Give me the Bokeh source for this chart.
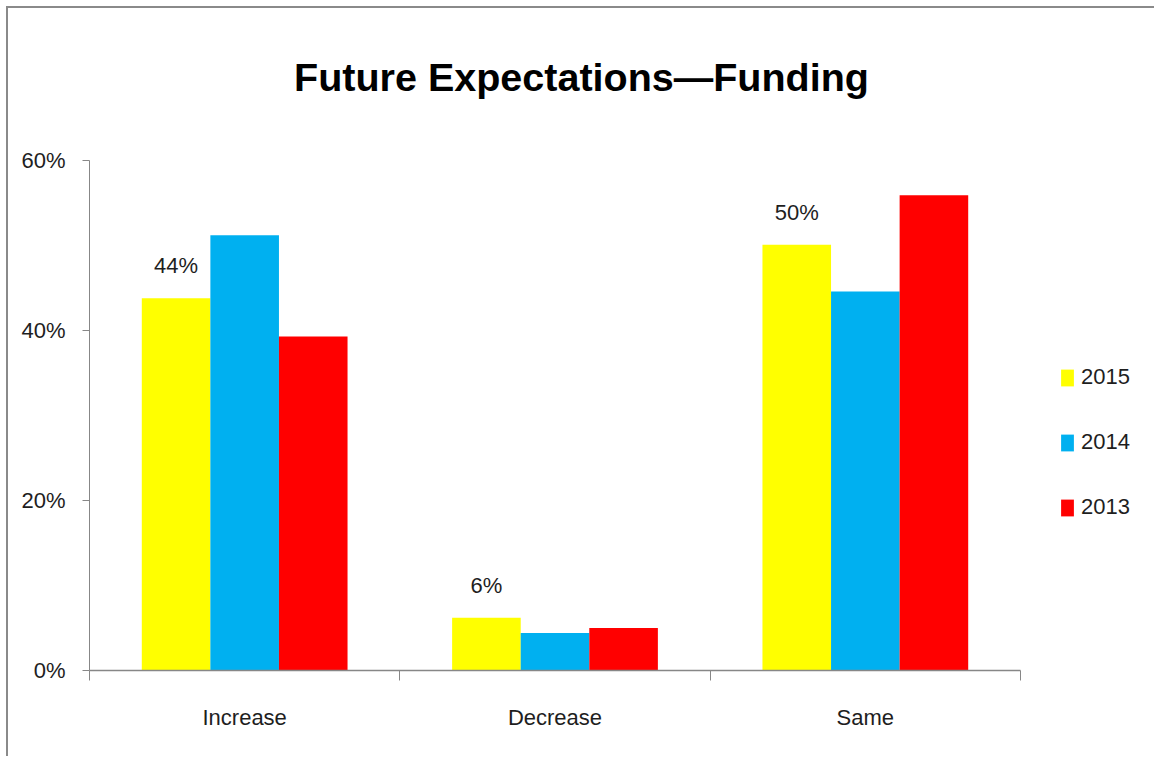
from bokeh.plotting import figure
from bokeh.models import (ColumnDataSource, Range1d, LinearAxis, FixedTicker, Label,
                          NumeralTickFormatter, LabelSet, Legend, LegendItem)
from bokeh.core.properties import value
from bokeh.transform import dodge
from bokeh.embed import file_html
from bokeh.resources import INLINE

categories = ["Increase", "Decrease", "Same"]
series = ["2015", "2014", "2013"]
colors = ["#FFFF00", "#00B0F0", "#FF0000"]
v2015 = [0.438, 0.062, 0.501]
v2014 = [0.512, 0.044, 0.446]
v2013 = [0.393, 0.050, 0.559]
y_ticks = [0.0, 0.2, 0.4, 0.6]
title_text = "Future Expectations\u2014Funding"

FONT = "Liberation Sans"
TXT = "#1e1e1e"
AX = "#878787"

ncat = len(categories)
src = ColumnDataSource(dict(
    cat=categories, xc=[i + 0.5 for i in range(ncat)],
    s2015=v2015, s2014=v2014, s2013=v2013,
    lab=[f"{round(v * 100)}%" for v in v2015],
))

# frame spans beyond the category area so that title and legend sit inside it;
# the axes are bounded to the data area
p = figure(x_range=Range1d(0, ncat * 1067 / 931), y_range=Range1d(0, max(y_ticks) * 662 / 510),
           width=1148, height=750, output_backend="svg", toolbar_location=None,
           x_axis_location=None, y_axis_location=None,
           min_border_left=81, min_border_top=0, min_border_right=0, min_border_bottom=88,
           styles={"margin-left": "6px", "margin-top": "6px",
                   "border-left": "2px solid #8a8a8a", "border-top": "2px solid #8a8a8a"})
p.outline_line_color = None
p.xgrid.visible = False
p.ygrid.visible = False
p.background_fill_color = "white"
p.border_fill_color = "white"

bw = 0.221
offsets = [-bw, 0.0, bw]
renderers = []
for s, c, off in zip(series, colors, offsets):
    r = p.vbar(x=dodge("xc", off), top="s" + s, width=bw, source=src,
               fill_color=c, line_color=None)
    renderers.append(r)

# data labels for 2015
labels = LabelSet(x=dodge("xc", offsets[0]), y="s2015", text="lab", source=src,
                  text_align="center", text_baseline="alphabetic", y_offset=25,
                  text_font=value(FONT), text_font_size="22px", text_color=TXT)
p.add_layout(labels)

# y axis
yaxis = LinearAxis(ticker=FixedTicker(ticks=y_ticks), formatter=NumeralTickFormatter(format="0%"),
                   bounds=(min(y_ticks), max(y_ticks)))
yaxis.axis_line_color = AX
yaxis.major_tick_line_color = AX
yaxis.major_tick_out = 7
yaxis.major_tick_in = 0
yaxis.minor_tick_line_color = None
yaxis.major_label_standoff = 17
yaxis.major_label_text_font = FONT
yaxis.major_label_text_font_size = "22px"
yaxis.major_label_text_color = TXT
p.add_layout(yaxis, "left")

# x axis: category names at centres, ticks at category boundaries
xaxis = LinearAxis(ticker=FixedTicker(ticks=[i + 0.5 for i in range(ncat)],
                                      minor_ticks=list(range(ncat + 1))),
                   bounds=(0, ncat))
xaxis.major_label_overrides = {i + 0.5: c for i, c in enumerate(categories)}
xaxis.axis_line_color = AX
xaxis.axis_line_width = 1.5
xaxis.major_tick_line_color = None
xaxis.major_tick_out = 10
xaxis.minor_tick_line_color = AX
xaxis.minor_tick_out = 10
xaxis.minor_tick_in = 0
xaxis.major_label_standoff = 24
xaxis.major_label_text_font = FONT
xaxis.major_label_text_font_size = "22px"
xaxis.major_label_text_color = TXT
p.add_layout(xaxis, "below")

# title
title = Label(x=492, y=594, x_units="screen", y_units="screen", text=title_text,
              text_align="center", text_baseline="alphabetic", text_font=FONT,
              text_font_style="bold", text_font_size="39.5px", text_color="#000000")
p.add_layout(title)

legend = Legend(items=[LegendItem(label=s, renderers=[r]) for s, r in zip(series, renderers)],
                location=(970, 150), glyph_width=16, glyph_height=21, label_standoff=6,
                spacing=39, padding=10, border_line_color=None, background_fill_alpha=0,
                label_text_font=FONT, label_text_font_size="22px", label_text_color=TXT)
p.add_layout(legend, "center")

open("out.html", "w").write(file_html(p, INLINE))
